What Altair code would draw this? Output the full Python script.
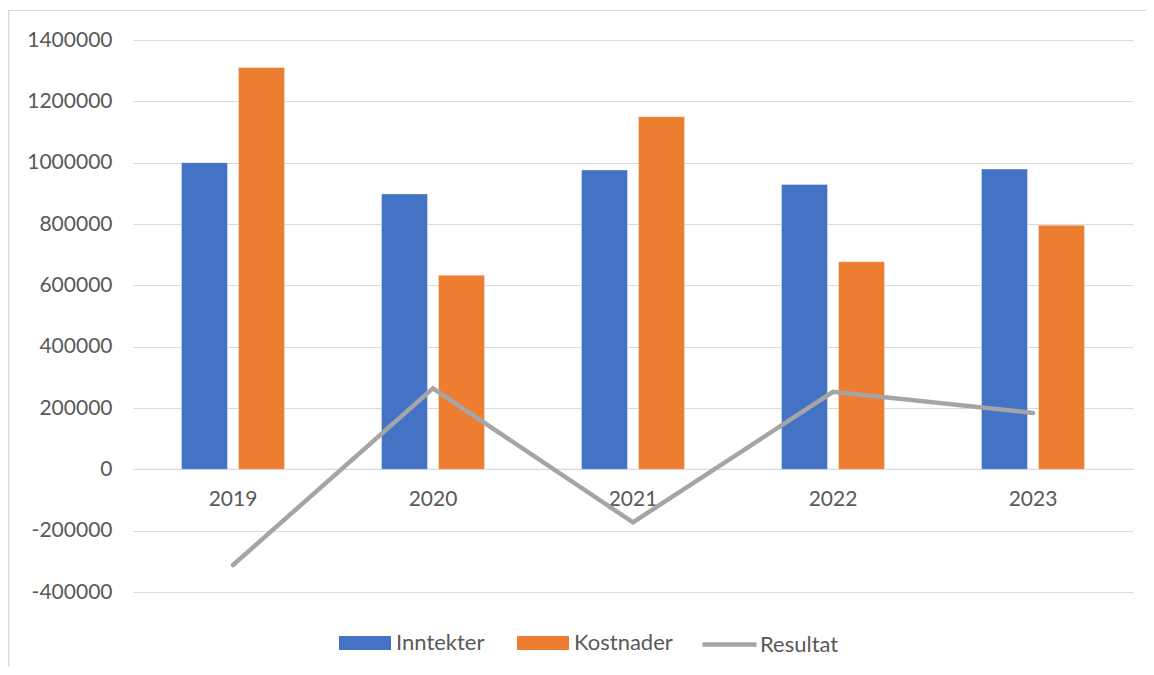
import altair as alt
import pandas as pd

years = ["2019", "2020", "2021", "2022", "2023"]
inntekter = [1000000, 898000, 976000, 929000, 979000]
kostnader = [1310000, 633000, 1150000, 677000, 796000]
resultat = [-312000, 264000, -173000, 253000, 184000]

bar_series = ["Inntekter", "Kostnader"]
bar_colors = ["#4472C4", "#ED7D31"]
line_series = ["Resultat"]
line_colors = ["#A5A5A5"]

bars = pd.DataFrame(
    [{"year": y, "series": "Inntekter", "value": v} for y, v in zip(years, inntekter)]
    + [{"year": y, "series": "Kostnader", "value": v} for y, v in zip(years, kostnader)]
)
line = pd.DataFrame({"year": years, "series": "Resultat", "value": resultat})
labels = pd.DataFrame({"year": years, "zero": [0] * len(years)})

FONT = "Lato"
TXT = "#595959"

xscale = alt.Scale(domain=years, paddingInner=0.485, paddingOuter=0.2425)
yscale = alt.Scale(domain=[-400000, 1400000], nice=False, zero=False)

rect_path = "M-1,-0.27L1,-0.27L1,0.27L-1,0.27Z"

common_legend = dict(
    title=None,
    orient="none",
    direction="horizontal",
    labelFont=FONT,
    labelFontSize=22,
    labelColor=TXT,
    columnPadding=32,
    padding=0,
)

fill_legend = alt.Legend(
    legendX=206, legendY=577, labelOffset=5,
    symbolType=rect_path, symbolSize=2704, symbolStrokeWidth=0, symbolOpacity=1,
    **common_legend,
)
stroke_legend = alt.Legend(
    legendX=567, legendY=575, labelOffset=1,
    symbolType="stroke", symbolSize=2916, symbolStrokeWidth=4.5,
    **common_legend,
)

bar_layer = alt.Chart(bars).mark_bar(stroke="white", strokeWidth=0.6, strokeOpacity=0.6).encode(
    x=alt.X("year:N", scale=xscale, axis=None, sort=years),
    xOffset=alt.XOffset("series:N", scale=alt.Scale(domain=bar_series, paddingInner=0.193, paddingOuter=0)),
    y=alt.Y(
        "value:Q",
        scale=yscale,
        axis=alt.Axis(
            title=None,
            values=list(range(-400000, 1400001, 200000)),
            labelExpr="datum.value < 0 ? '-' + format(-datum.value, 'd') : format(datum.value, 'd')",
            domain=False,
            ticks=False,
            grid=True,
            gridColor="#D9D9D9",
            gridWidth=1.2,
            labelFont=FONT,
            labelFontSize=21,
            labelColor=TXT,
            labelPadding=21,
        ),
    ),
    y2=alt.datum(0),
    fill=alt.Fill("series:N", scale=alt.Scale(domain=bar_series, range=bar_colors), legend=fill_legend),
)

line_layer = alt.Chart(line).mark_line(strokeWidth=4.5, strokeCap="round", strokeJoin="miter").encode(
    x=alt.X("year:N", scale=xscale, sort=years),
    y=alt.Y("value:Q", scale=yscale),
    stroke=alt.Stroke("series:N", scale=alt.Scale(domain=line_series, range=line_colors), legend=stroke_legend),
)

text_layer = alt.Chart(labels).mark_text(
    font=FONT, fontSize=21, color=TXT, dy=31, baseline="middle", align="center"
).encode(
    x=alt.X("year:N", scale=xscale, sort=years),
    y=alt.Y("zero:Q", scale=yscale),
    text="year:N",
)

zero_line = alt.Chart(labels).mark_rule(color="#D9D9D9", strokeWidth=1.2).encode(
    y=alt.Y("mean(zero):Q", scale=yscale),
)

frame = alt.Chart(labels).mark_rect(fill=None, stroke="#D9D9D9", strokeWidth=1.2, clip=False).encode(
    x=alt.value(-124.5), x2=alt.value(1040), y=alt.value(-29.5), y2=alt.value(660)
)

chart = alt.layer(frame, zero_line, bar_layer, text_layer, line_layer).properties(
    width=1000,
    height=552,
    autosize=alt.AutoSizeParams(type="none"),
    padding={"left": 125, "top": 32, "right": 13, "bottom": 75},
).configure_view(stroke=None)

chart.save("out.html", embed_options={"renderer": "svg", "actions": False})
